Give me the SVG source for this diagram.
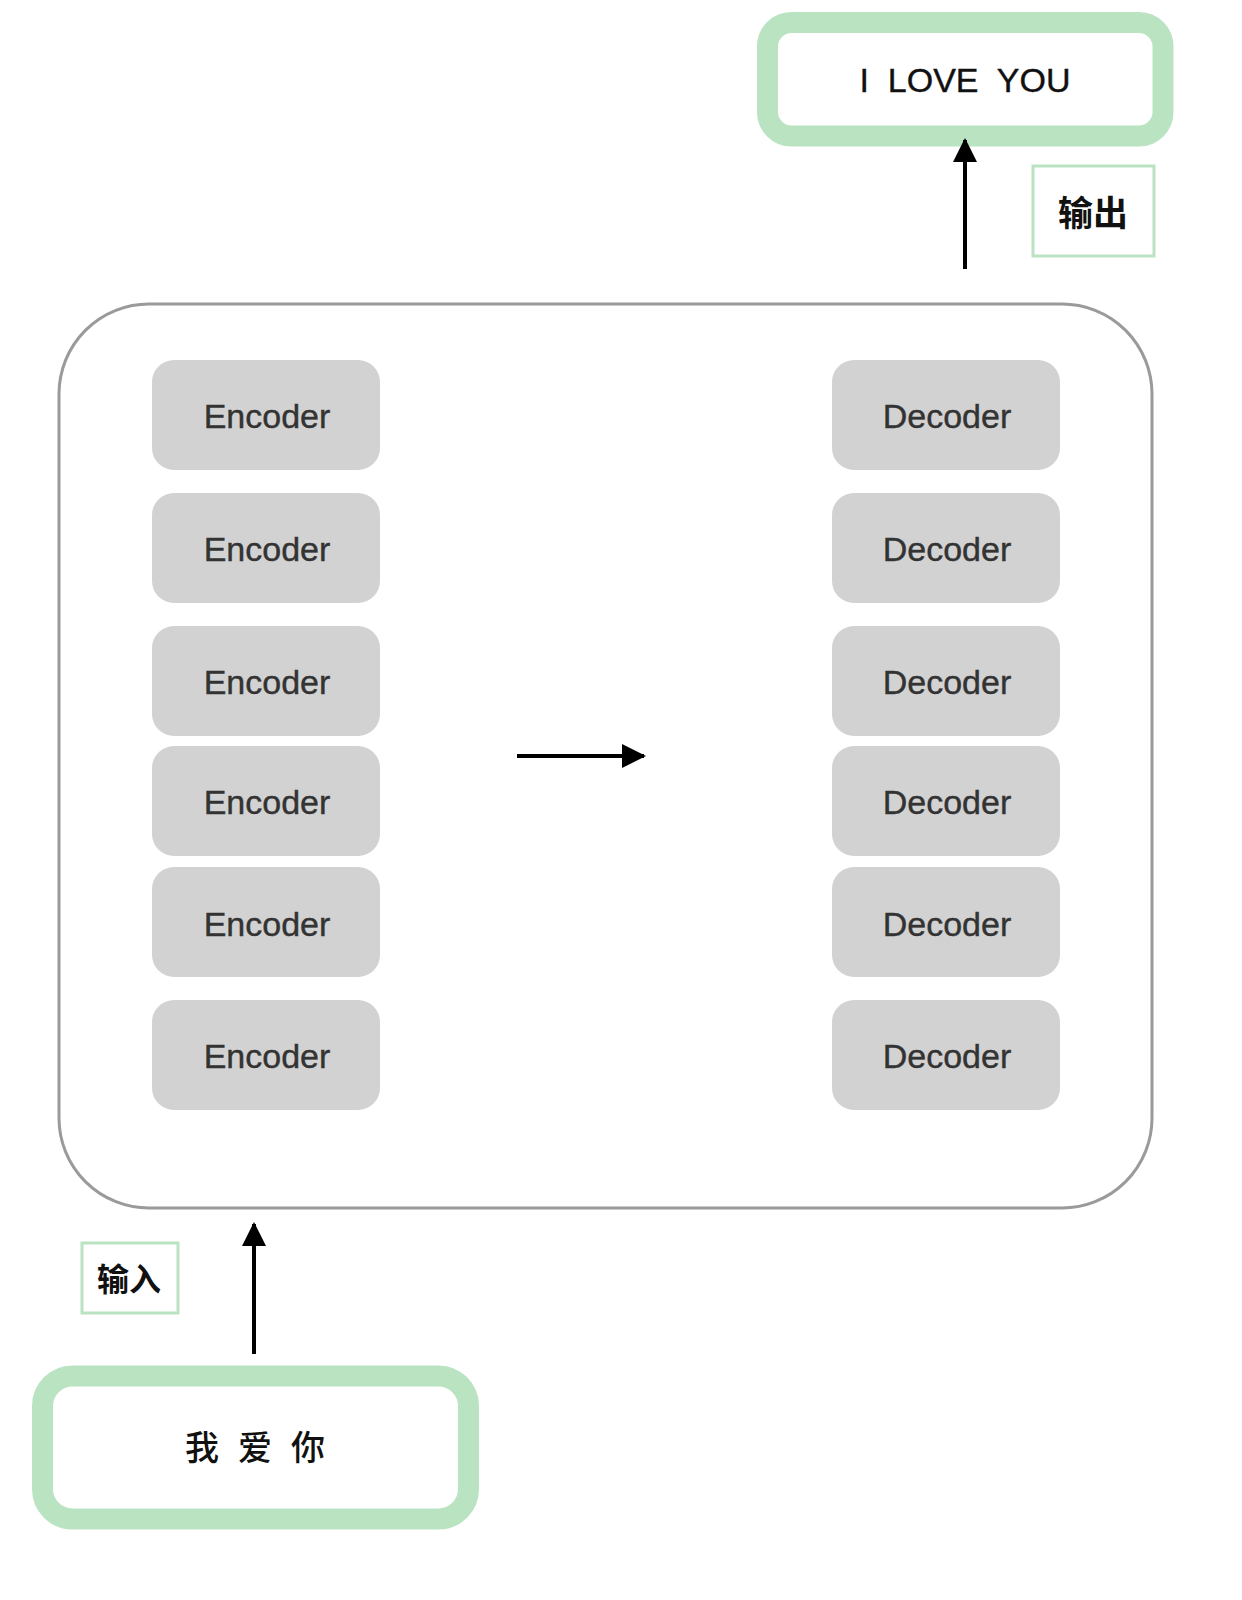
<svg xmlns="http://www.w3.org/2000/svg" width="1242" height="1600" viewBox="0 0 1242 1600">
<style>
.enc{fill:#d2d2d2;stroke:none}
.lbl{font-family:"Liberation Sans",Arial,sans-serif;font-size:34px;fill:#333;text-anchor:middle;stroke:#333;stroke-width:0.4}
.io{fill:#fff;stroke:#b9e3c1;stroke-width:21}
.tag{fill:#fff;stroke:#b9e3c1;stroke-width:3}
.cjk{font-family:"Liberation Sans","Noto Sans CJK SC",sans-serif;font-weight:bold;fill:#111;text-anchor:middle}
.conn{stroke:#000;stroke-width:4;fill:none}
</style>
<defs>
<marker id="ah" markerWidth="6" markerHeight="6" refX="5.5" refY="3" orient="auto" markerUnits="strokeWidth">
<path d="M0,0 L6,3 L0,6 Z" fill="#000"/>
</marker>
</defs>
<rect width="1242" height="1600" fill="#fff"/>
<g id="output">
<rect class="io" x="767.5" y="22.5" width="395.5" height="113.5" rx="24"/>
<text x="965" y="92" font-family="Liberation Sans,Arial,sans-serif" font-size="34" fill="#111" stroke="#111" stroke-width="0.4" text-anchor="middle" xml:space="preserve">I  LOVE  YOU</text>
</g>
<g id="output-tag">
<rect class="tag" x="1033" y="166" width="121" height="90"/>
<text class="cjk" x="1093" y="226" font-size="35">输出</text>
</g>
<g id="model">
<rect x="59" y="304" width="1093" height="904" rx="90" fill="#fff" stroke="#9a9a9a" stroke-width="3"/>
</g>
<g id="enc1"><rect class="enc" x="152" y="360" width="228" height="110" rx="22"/><text class="lbl" x="267" y="428">Encoder</text></g>
<g id="enc2"><rect class="enc" x="152" y="493" width="228" height="110" rx="22"/><text class="lbl" x="267" y="561">Encoder</text></g>
<g id="enc3"><rect class="enc" x="152" y="626" width="228" height="110" rx="22"/><text class="lbl" x="267" y="694">Encoder</text></g>
<g id="enc4"><rect class="enc" x="152" y="746" width="228" height="110" rx="22"/><text class="lbl" x="267" y="814">Encoder</text></g>
<g id="enc5"><rect class="enc" x="152" y="867" width="228" height="110" rx="22"/><text class="lbl" x="267" y="936">Encoder</text></g>
<g id="enc6"><rect class="enc" x="152" y="1000" width="228" height="110" rx="22"/><text class="lbl" x="267" y="1068">Encoder</text></g>
<g id="dec1"><rect class="enc" x="832" y="360" width="228" height="110" rx="22"/><text class="lbl" x="947" y="428">Decoder</text></g>
<g id="dec2"><rect class="enc" x="832" y="493" width="228" height="110" rx="22"/><text class="lbl" x="947" y="561">Decoder</text></g>
<g id="dec3"><rect class="enc" x="832" y="626" width="228" height="110" rx="22"/><text class="lbl" x="947" y="694">Decoder</text></g>
<g id="dec4"><rect class="enc" x="832" y="746" width="228" height="110" rx="22"/><text class="lbl" x="947" y="814">Decoder</text></g>
<g id="dec5"><rect class="enc" x="832" y="867" width="228" height="110" rx="22"/><text class="lbl" x="947" y="936">Decoder</text></g>
<g id="dec6"><rect class="enc" x="832" y="1000" width="228" height="110" rx="22"/><text class="lbl" x="947" y="1068">Decoder</text></g>
<g id="input-tag">
<rect class="tag" x="82" y="1243" width="96" height="70"/>
<text class="cjk" x="129" y="1291" font-size="32">输入</text>
</g>
<g id="input">
<rect class="io" x="42.5" y="1376" width="426" height="143" rx="30"/>
<text x="255" y="1460" font-family="Liberation Sans,'Noto Sans CJK SC',sans-serif" font-weight="500" font-size="34" fill="#111" text-anchor="middle" xml:space="preserve">我  爱  你</text>
</g>
<g id="connectors">
<line class="conn" x1="965" y1="269" x2="965" y2="140" marker-end="url(#ah)"/>
<line class="conn" x1="517" y1="756" x2="644" y2="756" marker-end="url(#ah)"/>
<line class="conn" x1="254" y1="1354" x2="254" y2="1224" marker-end="url(#ah)"/>
</g>
</svg>
